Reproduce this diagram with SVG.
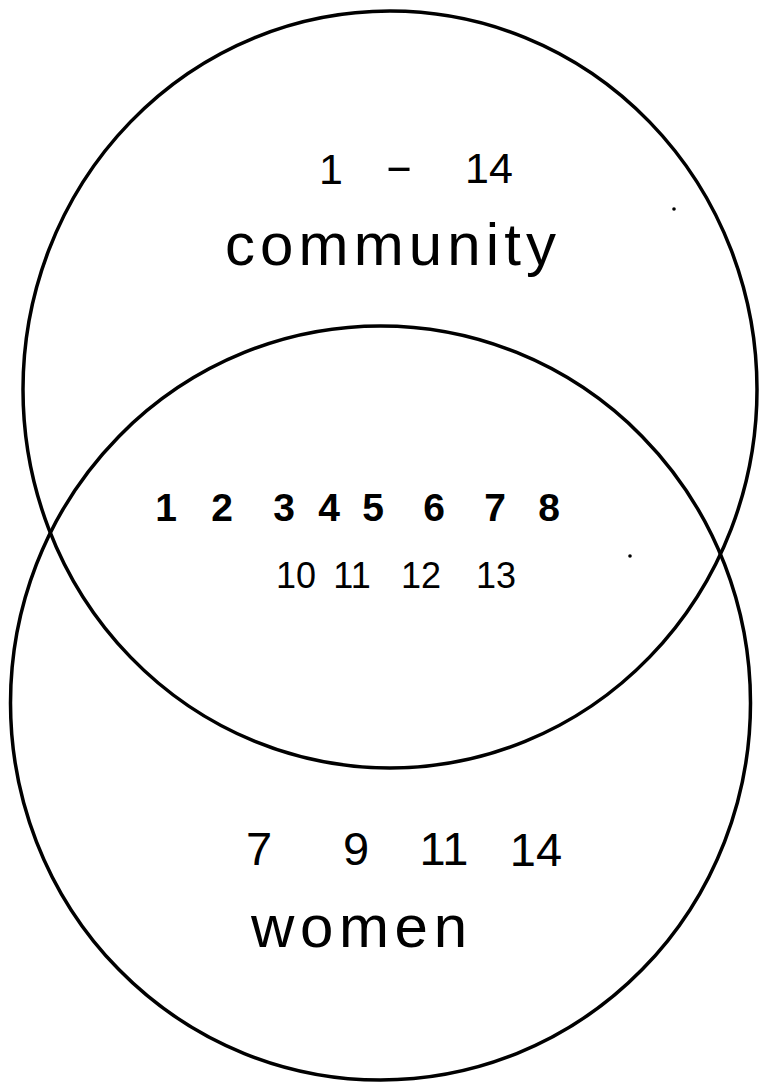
<svg xmlns="http://www.w3.org/2000/svg" width="764" height="1087" viewBox="0 0 764 1087">
  <style>
    .set { fill: none; stroke: #000; stroke-width: 3.5; }
    .lbl { font-family: "Liberation Sans", "DejaVu Sans", sans-serif; fill: #000; }
    .big { font-size: 43px; text-anchor: middle; }
    .mid { font-size: 39px; text-anchor: middle; font-weight: bold; }
    .sm { font-size: 36px; text-anchor: middle; }
    .bot { font-size: 47px; text-anchor: middle; }
    .word { font-size: 60px; }
    .speck { fill: #000; }
  </style>
  <rect width="764" height="1087" fill="#fff"/>
  <g id="set-community">
    <ellipse class="set" cx="390" cy="389.5" rx="367" ry="378.5"/>
    <text class="lbl big" x="331" y="184">1</text>
    <text class="lbl big" transform="translate(399,181) scale(2,1)" x="0" y="0">-</text>
    <text class="lbl big" x="489" y="183">14</text>
    <text class="lbl word" x="225" y="265" textLength="331" lengthAdjust="spacing">community</text>
  </g>
  <g id="set-women">
    <ellipse class="set" cx="380.5" cy="703" rx="370" ry="377"/>
    <text class="lbl bot" x="259" y="865">7</text>
    <text class="lbl bot" x="356" y="865">9</text>
    <text class="lbl bot" x="444" y="865">11</text>
    <text class="lbl bot" x="536" y="866">14</text>
    <text class="lbl word" x="251" y="947" textLength="216" lengthAdjust="spacing">women</text>
  </g>
  <g id="intersection">
    <text class="lbl mid" x="166" y="521">1</text>
    <text class="lbl mid" x="222" y="521">2</text>
    <text class="lbl mid" x="284" y="521">3</text>
    <text class="lbl mid" x="329" y="521">4</text>
    <text class="lbl mid" x="373" y="521">5</text>
    <text class="lbl mid" x="434" y="521">6</text>
    <text class="lbl mid" x="495" y="521">7</text>
    <text class="lbl mid" x="549" y="521">8</text>
    <text class="lbl sm" x="296" y="588">10</text>
    <text class="lbl sm" x="352" y="588">11</text>
    <text class="lbl sm" x="421" y="588">12</text>
    <text class="lbl sm" x="496" y="588">13</text>
  </g>
  <g id="specks">
    <circle class="speck" cx="674" cy="209" r="1.8"/>
    <circle class="speck" cx="630" cy="556" r="1.8"/>
  </g>
</svg>
